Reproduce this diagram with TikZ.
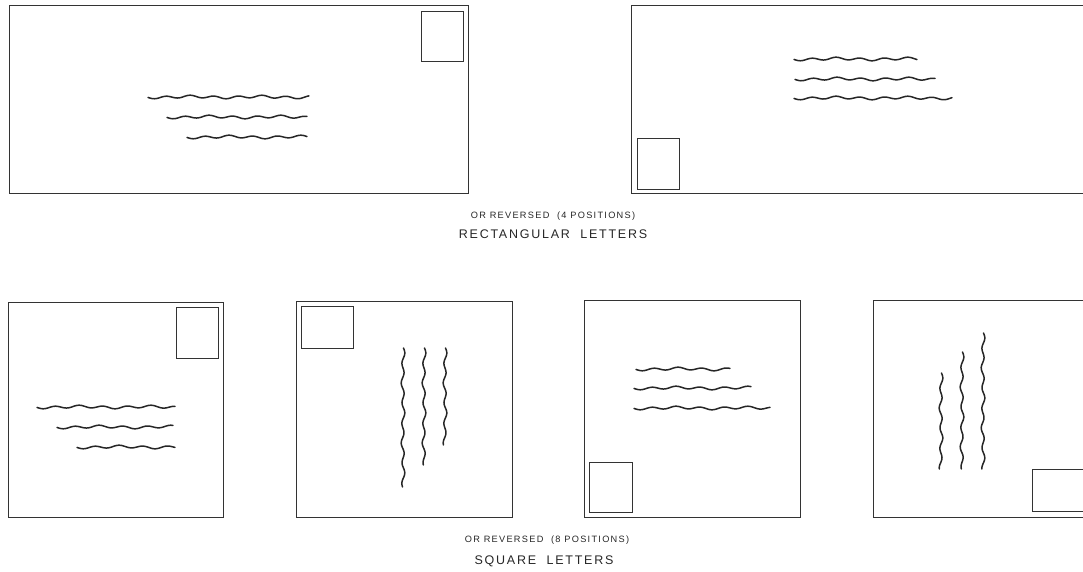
\documentclass[tikz,border=0pt]{standalone}
\usepackage{fontspec}
\newfontfamily\lettering[LetterSpace=14]{Liberation Sans}
\newcommand\hwave[3]{\draw[script] plot[domain=#1:#2, samples=100, smooth] (\x,{#3+1.2*sin((\x-#1)*15)+0.6*sin((\x-#1)*5.3+40)});}
\newcommand\vwave[3]{\draw[script] plot[domain=#2:#3, samples=100, smooth] ({#1+1.3*sin((\x-#2)*18)+0.5*sin((\x-#2)*6.1+60)},\x);}
\begin{document}
\begin{tikzpicture}[x=1pt,y=-1pt,
 envelope/.style={draw=black!80, line width=0.9pt},
 stamp/.style={draw=black!80, line width=0.9pt},
 script/.style={draw=black!85, line width=1.5pt, line cap=round},
 caption/.style={font=\lettering\fontsize{9.2}{11}\selectfont, inner sep=0pt, text=black!85},
 title/.style={font=\lettering\fontsize{12.5}{14}\selectfont, inner sep=0pt, text=black!85}]
\useasboundingbox (0,0) rectangle (1083,572);

% rectangular letters
\draw[envelope] (9,5) rectangle (468,193);
\draw[stamp] (421,11) rectangle (463,61);
\hwave{148}{309}{97}
\hwave{167}{307}{117}
\hwave{187}{307}{137}

\draw[envelope] (631,5) rectangle (1090,193);
\draw[stamp] (637,138) rectangle (679,189);
\hwave{794}{917}{59}
\hwave{795}{935}{79}
\hwave{794}{952}{98}

\node[caption] (c1) at (553,216) {OR REVERSED\ \ (4 POSITIONS)};
\node[title] (t1) at (553,234) {RECTANGULAR\ \ LETTERS};

% square letters
\draw[envelope] (8,302) rectangle (223,517);
\draw[stamp] (176,307) rectangle (218,358);
\hwave{37}{175}{407}
\hwave{57}{173}{427}
\hwave{77}{175}{447}

\draw[envelope] (296,301) rectangle (512,517);
\draw[stamp] (301,306) rectangle (353,348);
\vwave{403}{348}{487}
\vwave{424}{348}{465}
\vwave{445}{348}{445}

\draw[envelope] (584,300) rectangle (800,517);
\draw[stamp] (589,462) rectangle (632,512);
\hwave{636}{730}{369}
\hwave{634}{751}{388}
\hwave{634}{770}{408}

\draw[envelope] (873,300) rectangle (1089,517);
\draw[stamp] (1032,469) rectangle (1084,511);
\vwave{941}{373}{469}
\vwave{962}{352}{469}
\vwave{983}{333}{469}

\node[caption] (c2) at (547,540) {OR REVERSED\ \ (8 POSITIONS)};
\node[title] (t2) at (544,561) {SQUARE\ \ LETTERS};
\end{tikzpicture}
\end{document}
